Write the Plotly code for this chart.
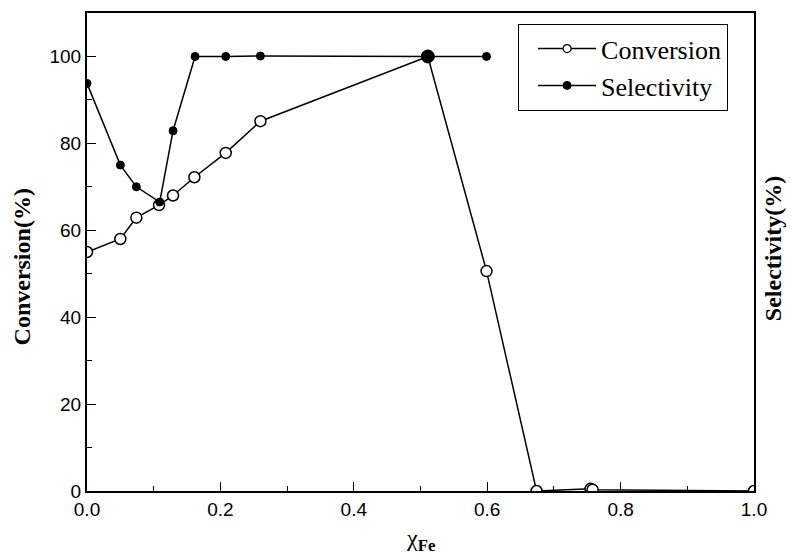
import plotly.graph_objects as go

# Fe mole fraction and catalytic results
conv_x = [0.0, 0.050, 0.074, 0.108, 0.129, 0.161, 0.208, 0.260, 0.511, 0.599, 0.674, 0.755, 0.758, 1.0]
conv_y = [55.0, 58.0, 62.9, 65.8, 68.0, 72.2, 77.8, 85.1, 100.0, 50.6, 0.0, 0.5, 0.3, 0.0]

sel_x = [0.0, 0.050, 0.074, 0.109, 0.129, 0.162, 0.208, 0.260, 0.511, 0.599]
sel_y = [93.8, 75.0, 70.0, 66.5, 82.9, 100.0, 100.0, 100.1, 100.0, 100.0]

x_ticks = [0.0, 0.2, 0.4, 0.6, 0.8, 1.0]
y_ticks = [0, 20, 40, 60, 80, 100]

sel_sizes = [8] * len(sel_x)
sel_sizes[8] = 13

serif = "Liberation Serif, Times New Roman, serif"
sans = "Liberation Sans, Arial, sans-serif"

fig = go.Figure()
fig.add_trace(go.Scatter(
    x=conv_x, y=conv_y, mode="lines+markers", name="Conversion",
    showlegend=False,
    line=dict(color="#000000", width=1.5),
    marker=dict(symbol="circle", size=11, color="#ffffff",
                line=dict(color="#000000", width=1.5)),
))
fig.add_trace(go.Scatter(
    x=sel_x, y=sel_y, mode="lines+markers", name="Selectivity",
    showlegend=False,
    line=dict(color="#000000", width=1.5),
    marker=dict(symbol="circle", size=sel_sizes, color="#000000", opacity=1,
                line=dict(color="#000000", width=1)),
))

# legend keys with smaller symbols
fig.add_trace(go.Scatter(
    x=[None], y=[None], mode="lines+markers", name="Conversion",
    line=dict(color="#000000", width=1.5),
    marker=dict(symbol="circle", size=8, color="#ffffff",
                line=dict(color="#000000", width=1.2)),
))
fig.add_trace(go.Scatter(
    x=[None], y=[None], mode="lines+markers", name="Selectivity",
    line=dict(color="#000000", width=1.5),
    marker=dict(symbol="circle", size=8, color="#000000",
                line=dict(color="#000000", width=1)),
))

tick_font = dict(family=sans, size=19, color="black")
title_font = dict(family=serif, size=24, color="black")

fig.update_layout(
    width=791, height=556,
    margin=dict(l=87, r=37, t=11, b=65),
    paper_bgcolor="white", plot_bgcolor="white",
    showlegend=True,
    legend=dict(
        x=0.646, y=0.977, xanchor="left", yanchor="top",
        bgcolor="white", bordercolor="black", borderwidth=1.2,
        font=dict(family=serif, size=26, color="black"),
        itemwidth=58, indentation=14, tracegroupgap=0,
    ),
    xaxis=dict(
        range=[0, 1.0], tickvals=x_ticks, ticktext=[f"{v:.1f}" for v in x_ticks],
        ticks="inside", ticklen=9, tickwidth=1.3, tickcolor="black",
        minor=dict(tickvals=[0.1, 0.3, 0.5, 0.7, 0.9], ticks="inside",
                   ticklen=5, tickwidth=1.3, tickcolor="black"),
        showline=True, linecolor="black", linewidth=2, mirror=True,
        showgrid=False, zeroline=False, tickfont=tick_font,
    ),
    yaxis=dict(
        range=[0, 110], tickvals=y_ticks,
        ticks="inside", ticklen=9, tickwidth=1.3, tickcolor="black",
        minor=dict(tickvals=[10, 30, 50, 70, 90], ticks="inside",
                   ticklen=5, tickwidth=1.3, tickcolor="black"),
        showline=True, linecolor="black", linewidth=2, mirror=True,
        showgrid=False, zeroline=False, tickfont=tick_font,
    ),
    annotations=[
        dict(text="χ<sub><b>Fe</b></sub>", xref="paper", yref="paper",
             x=0.5, y=-0.102, xanchor="center", yanchor="middle",
             showarrow=False, font=dict(family=serif, size=24, color="black")),
        dict(text="<b>Conversion(%)</b>", xref="paper", yref="paper",
             x=-0.098, y=0.469, xanchor="center", yanchor="middle",
             textangle=-90, showarrow=False, font=title_font),
        dict(text="<b>Selectivity(%)</b>", xref="paper", yref="paper",
             x=1.0285, y=0.506, xanchor="center", yanchor="middle",
             textangle=-90, showarrow=False, font=title_font),
    ],
)

fig.write_html("out.html")
